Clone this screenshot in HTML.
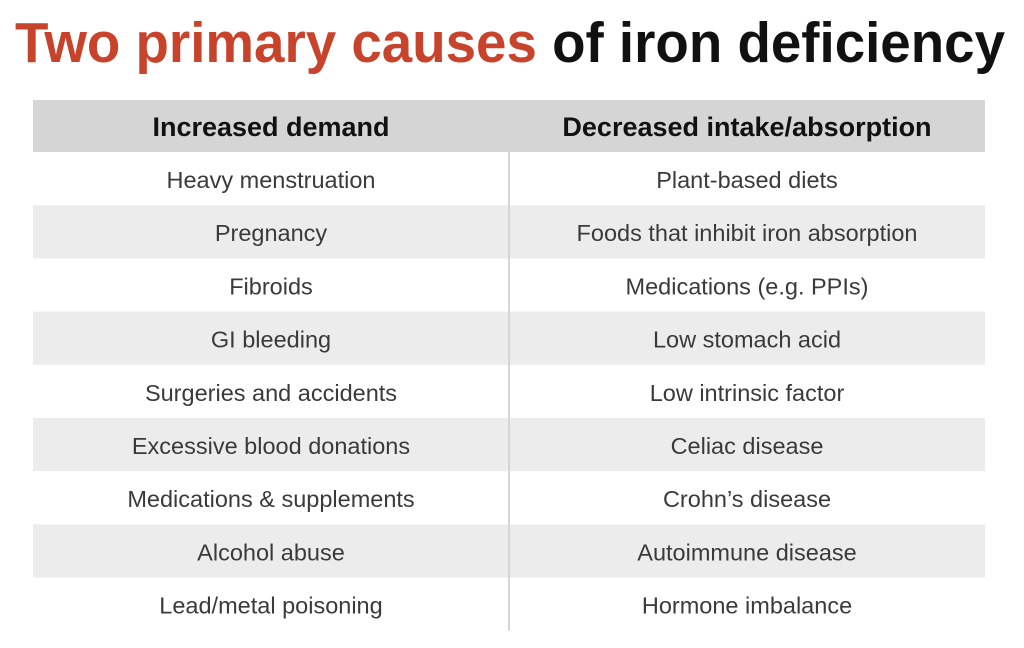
<!DOCTYPE html>
<html><head><meta charset="utf-8"><style>
html,body{margin:0;padding:0;background:#fff;width:1024px;height:648px;overflow:hidden;font-family:"Liberation Sans",sans-serif}
</style></head><body>
<svg width="1024" height="648" xmlns="http://www.w3.org/2000/svg">
<text x="15" y="62" font-size="57" font-weight="bold" textLength="990" lengthAdjust="spacingAndGlyphs" font-family="Liberation Sans, sans-serif"><tspan fill="#c8432b">Two primary causes</tspan><tspan fill="#111"> of iron deficiency</tspan></text>
<g id="tbl"></g>
</svg>
<script>
const left=["Heavy menstruation","Pregnancy","Fibroids","GI bleeding","Surgeries and accidents","Excessive blood donations","Medications & supplements","Alcohol abuse","Lead/metal poisoning"];
const right=["Plant-based diets","Foods that inhibit iron absorption","Medications (e.g. PPIs)","Low stomach acid","Low intrinsic factor","Celiac disease","Crohn’s disease","Autoimmune disease","Hormone imbalance"];
const headers=["Increased demand","Decreased intake/absorption"];
const ns="http://www.w3.org/2000/svg";
const g=document.getElementById('tbl');
const X0=33,X1=985,XM=509,Y0=100,HH=52,RH=53.2;
function mk(t,a){const e=document.createElementNS(ns,t);for(const k in a)e.setAttribute(k,a[k]);g.appendChild(e);return e;}
let h=mk('rect',{x:X0,y:Y0,width:X1-X0,height:HH,fill:'#d5d5d5'});


headers.forEach((s,i)=>{const t=mk('text',{x:i?(XM+X1)/2:(X0+XM)/2,y:Y0+36,'text-anchor':'middle','font-size':27,'font-weight':'bold',fill:'#111'});t.textContent=s;

});
left.forEach((s,i)=>{const y=Y0+HH+i*RH;
if(i%2===1){const r=mk('rect',{x:X0,y:y,width:X1-X0,height:RH,fill:'#ececec'});

}
const a=mk('text',{x:(X0+XM)/2,y:y+36,'text-anchor':'middle','font-size':23.5,fill:'#3a3a3a'});a.textContent=s;


const b=mk('text',{x:(XM+X1)/2,y:y+36,'text-anchor':'middle','font-size':23.5,fill:'#3a3a3a'});b.textContent=right[i];

});
const d=mk('line',{x1:XM,y1:Y0,x2:XM,y2:Y0+HH+left.length*RH,stroke:'#d5d5d5','stroke-width':2});


</script>
</body></html>
